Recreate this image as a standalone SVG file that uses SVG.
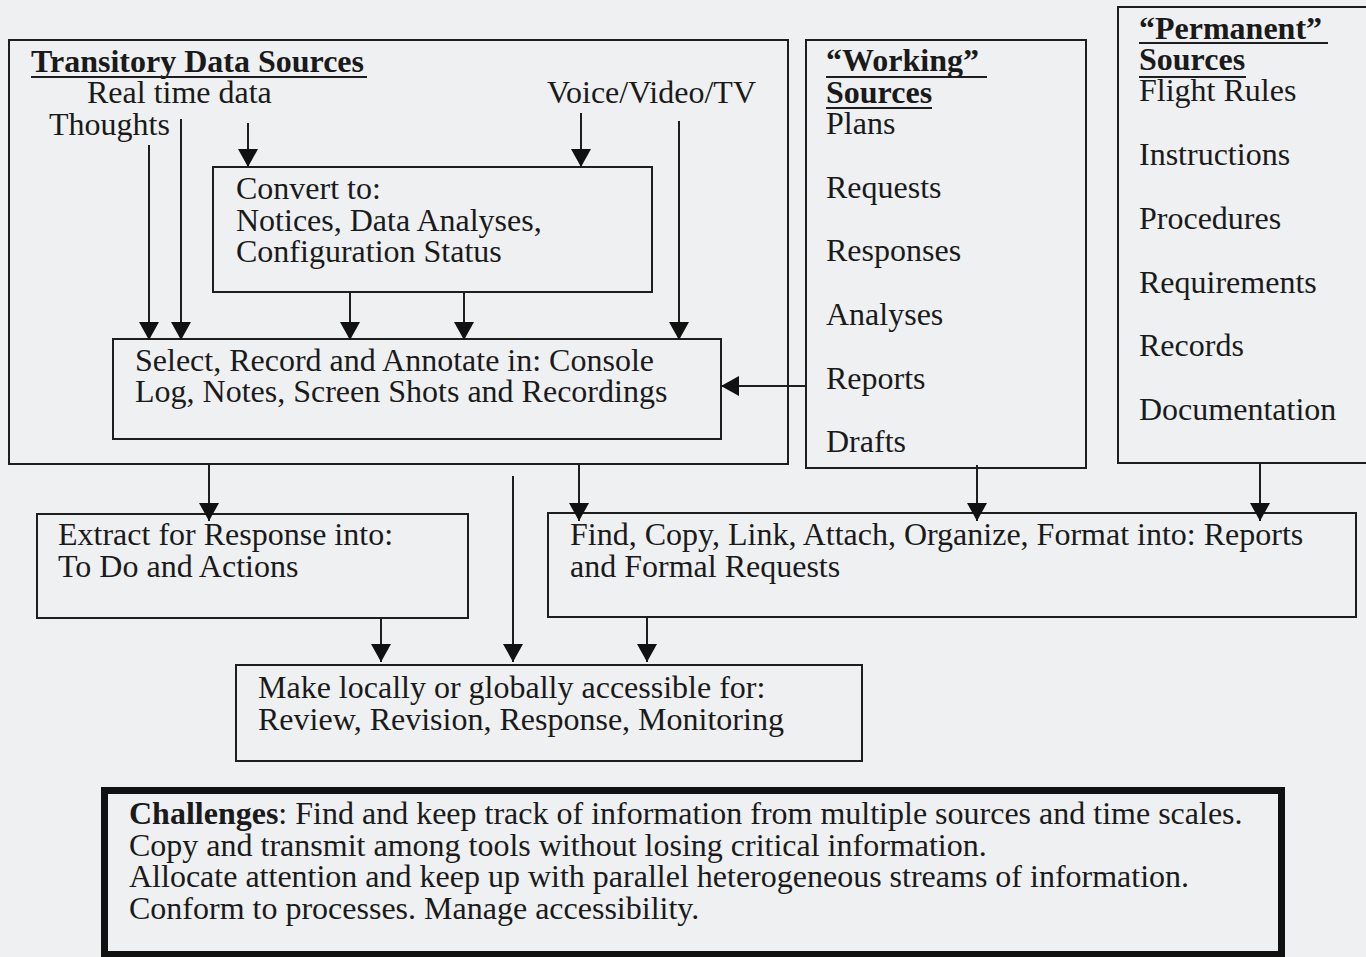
<svg xmlns="http://www.w3.org/2000/svg" width="1366" height="957" viewBox="0 0 1366 957">
<defs>
<style>
.t{font-family:"Liberation Serif","Times New Roman",serif;font-size:32px;fill:#1a1a1a}
.b{font-weight:bold}
.box{fill:none;stroke:#1e1e1e;stroke-width:2}
.ul{stroke:#1e1e1e;stroke-width:2}
.c{stroke:#1e1e1e;stroke-width:2;fill:none;marker-end:url(#ah)}
</style>
<marker id="ah" viewBox="0 0 18 20" refX="18" refY="10" markerWidth="18" markerHeight="20" markerUnits="userSpaceOnUse" orient="auto">
<path d="M0,0 L18,10 L0,20 z" fill="#111"/>
</marker>
</defs>
<rect x="0" y="0" width="1366" height="957" fill="#eef0f2"/>

<g id="transitory">
<rect class="box" x="9" y="40" width="779" height="424"/>
<text class="t b" x="31" y="72">Transitory Data Sources</text>
<line class="ul" x1="31" y1="77" x2="367" y2="77"/>
<text class="t" x="87" y="103">Real time data</text>
<text class="t" x="49" y="135">Thoughts</text>
<text class="t" x="547" y="103">Voice/Video/TV</text>
</g>

<g id="convert">
<rect class="box" x="213" y="167" width="439" height="125"/>
<text class="t" x="236" y="199">Convert to:</text>
<text class="t" x="236" y="231">Notices, Data Analyses,</text>
<text class="t" x="236" y="262">Configuration Status</text>
</g>

<g id="select">
<rect class="box" x="113" y="339" width="608" height="100"/>
<text class="t" x="135" y="371">Select, Record and Annotate in: Console</text>
<text class="t" x="135" y="402">Log, Notes, Screen Shots and Recordings</text>
</g>

<g id="working">
<rect class="box" x="806" y="40" width="280" height="428"/>
<text class="t b" x="826" y="71">“Working”</text>
<line class="ul" x1="826" y1="77" x2="987" y2="77"/>
<text class="t b" x="826" y="103">Sources</text>
<line class="ul" x1="826" y1="108" x2="932" y2="108"/>
<text class="t" x="826" y="134">Plans</text>
<text class="t" x="826" y="198">Requests</text>
<text class="t" x="826" y="261">Responses</text>
<text class="t" x="826" y="325">Analyses</text>
<text class="t" x="826" y="389">Reports</text>
<text class="t" x="826" y="452">Drafts</text>
</g>

<g id="permanent">
<rect class="box" x="1118" y="7" width="270" height="456"/>
<text class="t b" x="1139" y="39">“Permanent”</text>
<line class="ul" x1="1139" y1="43" x2="1328" y2="43"/>
<text class="t b" x="1139" y="70">Sources</text>
<line class="ul" x1="1139" y1="77" x2="1246" y2="77"/>
<text class="t" x="1139" y="101">Flight Rules</text>
<text class="t" x="1139" y="165">Instructions</text>
<text class="t" x="1139" y="229">Procedures</text>
<text class="t" x="1139" y="293">Requirements</text>
<text class="t" x="1139" y="356">Records</text>
<text class="t" x="1139" y="420">Documentation</text>
</g>

<g id="extract">
<rect class="box" x="37" y="514" width="431" height="104"/>
<text class="t" x="58" y="545">Extract for Response into:</text>
<text class="t" x="58" y="577">To Do and Actions</text>
</g>

<g id="find">
<rect class="box" x="548" y="513" width="808" height="104"/>
<text class="t" x="570" y="545">Find, Copy, Link, Attach, Organize, Format into: Reports</text>
<text class="t" x="570" y="577">and Formal Requests</text>
</g>

<g id="make">
<rect class="box" x="236" y="665" width="626" height="96"/>
<text class="t" x="258" y="698">Make locally or globally accessible for:</text>
<text class="t" x="258" y="730">Review, Revision, Response, Monitoring</text>
</g>

<g id="challenges">
<rect x="104.5" y="790.5" width="1177" height="164" fill="none" stroke="#111" stroke-width="7"/>
<text class="t" x="129" y="824"><tspan class="b">Challenges</tspan>: Find and keep track of information from multiple sources and time scales.</text>
<text class="t" x="129" y="856">Copy and transmit among tools without losing critical information.</text>
<text class="t" x="129" y="887">Allocate attention and keep up with parallel heterogeneous streams of information.</text>
<text class="t" x="129" y="919">Conform to processes. Manage accessibility.</text>
</g>

<g id="connectors">
<line class="c" x1="149" y1="145" x2="149" y2="340"/>
<line class="c" x1="181" y1="119" x2="181" y2="340"/>
<line class="c" x1="248" y1="123" x2="248" y2="167"/>
<line class="c" x1="581" y1="113" x2="581" y2="167"/>
<line class="c" x1="679" y1="121" x2="679" y2="340"/>
<line class="c" x1="350" y1="292" x2="350" y2="340"/>
<line class="c" x1="464" y1="292" x2="464" y2="340"/>
<line class="c" x1="806" y1="386" x2="721" y2="386"/>
<line class="c" x1="209" y1="464" x2="209" y2="521"/>
<line class="c" x1="513" y1="476" x2="513" y2="662"/>
<line class="c" x1="579" y1="464" x2="579" y2="521"/>
<line class="c" x1="977" y1="465" x2="977" y2="521"/>
<line class="c" x1="1260" y1="463" x2="1260" y2="521"/>
<line class="c" x1="381" y1="618" x2="381" y2="662"/>
<line class="c" x1="647" y1="617" x2="647" y2="662"/>
</g>
</svg>
